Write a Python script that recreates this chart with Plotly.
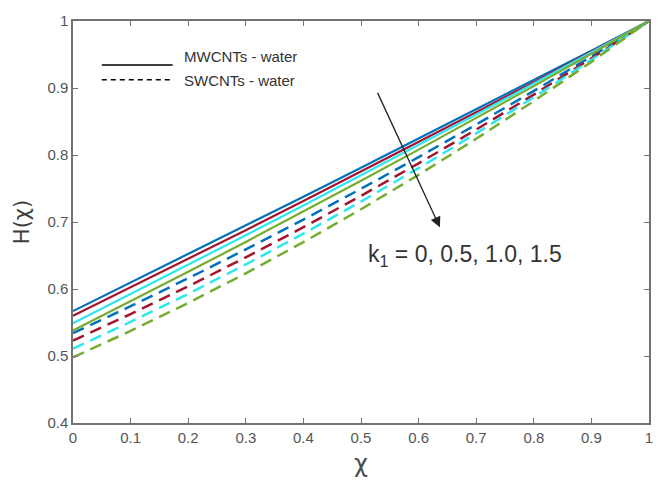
import plotly.graph_objects as go

x_vals = [0.0, 0.1, 0.2, 0.3, 0.4, 0.5, 0.6, 0.7, 0.8, 0.9, 1.0]

# MWCNTs - water (solid), k1 = 0, 0.5, 1.0, 1.5
mw_k0 = [0.567, 0.6094, 0.652, 0.6948, 0.7378, 0.781, 0.8244, 0.868, 0.9118, 0.9558, 1.0]
mw_k05 = [0.560, 0.6022, 0.6448, 0.6878, 0.7312, 0.775, 0.8192, 0.8638, 0.9088, 0.9542, 1.0]
mw_k10 = [0.549, 0.5923, 0.636, 0.6801, 0.7246, 0.7695, 0.8148, 0.8605, 0.9066, 0.9531, 1.0]
mw_k15 = [0.538, 0.5815, 0.6256, 0.6703, 0.7156, 0.7615, 0.808, 0.8551, 0.9028, 0.9511, 1.0]

# SWCNTs - water (dashed), k1 = 0, 0.5, 1.0, 1.5
sw_k0 = [0.534, 0.5743, 0.616, 0.6591, 0.7036, 0.7495, 0.7968, 0.8455, 0.8956, 0.9471, 1.0]
sw_k05 = [0.523, 0.5626, 0.604, 0.6472, 0.6922, 0.739, 0.7876, 0.838, 0.8902, 0.9442, 1.0]
sw_k10 = [0.511, 0.5509, 0.5928, 0.6367, 0.6826, 0.7305, 0.7804, 0.8323, 0.8862, 0.9421, 1.0]
sw_k15 = [0.498, 0.5374, 0.5792, 0.6234, 0.67, 0.719, 0.7704, 0.8242, 0.8804, 0.939, 1.0]

colors = ["#0072BD", "#A2142F", "#2EE6F0", "#77AC30"]
solid_series = [mw_k0, mw_k05, mw_k10, mw_k15]
dashed_series = [sw_k0, sw_k05, sw_k10, sw_k15]

x_ticks = [0, 0.1, 0.2, 0.3, 0.4, 0.5, 0.6, 0.7, 0.8, 0.9, 1]
x_ticktext = ["0", "0.1", "0.2", "0.3", "0.4", "0.5", "0.6", "0.7", "0.8", "0.9", "1"]
y_ticks = [0.4, 0.5, 0.6, 0.7, 0.8, 0.9, 1]
y_ticktext = ["0.4", "0.5", "0.6", "0.7", "0.8", "0.9", "1"]

fig = go.Figure()
for ys, c in zip(dashed_series, colors):
    fig.add_trace(go.Scatter(x=x_vals, y=ys, mode="lines",
                             line=dict(color=c, width=2.5, dash="12px,7px"),
                             showlegend=False))
for ys, c in zip(solid_series, colors):
    fig.add_trace(go.Scatter(x=x_vals, y=ys, mode="lines",
                             line=dict(color=c, width=2.2),
                             showlegend=False))

font_family = "Arial, Liberation Sans, sans-serif"
title_family = "DejaVu Sans, Noto Sans, sans-serif"
axis_color = "#737373"

fig.update_layout(
    width=665, height=490,
    margin=dict(l=73, r=13, t=12, b=67),
    paper_bgcolor="white", plot_bgcolor="white",
    font=dict(family=font_family, color="#4d4d4d", size=15),
    xaxis=dict(range=[0, 1], tickvals=x_ticks, ticktext=x_ticktext,
               ticks="inside", ticklen=5, tickcolor=axis_color,
               showline=True, linecolor=axis_color, linewidth=1.5, mirror="ticks",
               showgrid=False, zeroline=False,
               tickfont=dict(size=15, color="#555555"),
               title=dict(text="χ", font=dict(size=24, color="#4d4d4d", family=title_family),
                          standoff=10)),
    yaxis=dict(range=[0.4, 1], tickvals=y_ticks, ticktext=y_ticktext,
               ticks="inside", ticklen=5, tickcolor=axis_color,
               showline=True, linecolor=axis_color, linewidth=1.5, mirror="ticks",
               showgrid=False, zeroline=False,
               tickfont=dict(size=15, color="#555555"),
               title=dict(text="H(χ)", font=dict(size=21, color="#3d3d3d", family=title_family),
                          standoff=12)),
)

# Custom legend
fig.add_shape(type="line", xref="paper", yref="paper", x0=0.050, x1=0.173, y0=0.8905, y1=0.8905,
              line=dict(color="black", width=1.5))
fig.add_shape(type="line", xref="paper", yref="paper", x0=0.050, x1=0.173, y0=0.854, y1=0.854,
              line=dict(color="black", width=1.5, dash="5px,4px"))
fig.add_annotation(xref="paper", yref="paper", x=0.19, y=0.912, text="MWCNTs - water",
                   showarrow=False, xanchor="left", yanchor="middle",
                   font=dict(size=15, color="#333333", family=font_family))
fig.add_annotation(xref="paper", yref="paper", x=0.19, y=0.852, text="SWCNTs - water",
                   showarrow=False, xanchor="left", yanchor="middle",
                   font=dict(size=15, color="#333333", family=font_family))

# Arrow
fig.add_annotation(x=0.637, y=0.692, xref="x", yref="y", ax=-63, ay=-136,
                   showarrow=True, arrowhead=2, arrowsize=1.6, arrowwidth=1.3,
                   arrowcolor="#222222", text="")
# Parameter label
fig.add_annotation(x=(467 - 73) / 579, y=1 - (252 - 12) / 411, xref="paper", yref="paper",
                   text="k<sub>1</sub> = 0, 0.5, 1.0, 1.5", showarrow=False,
                   xanchor="center", yanchor="middle",
                   font=dict(size=23, color="#333333", family=font_family))

fig.write_html("out.html")
